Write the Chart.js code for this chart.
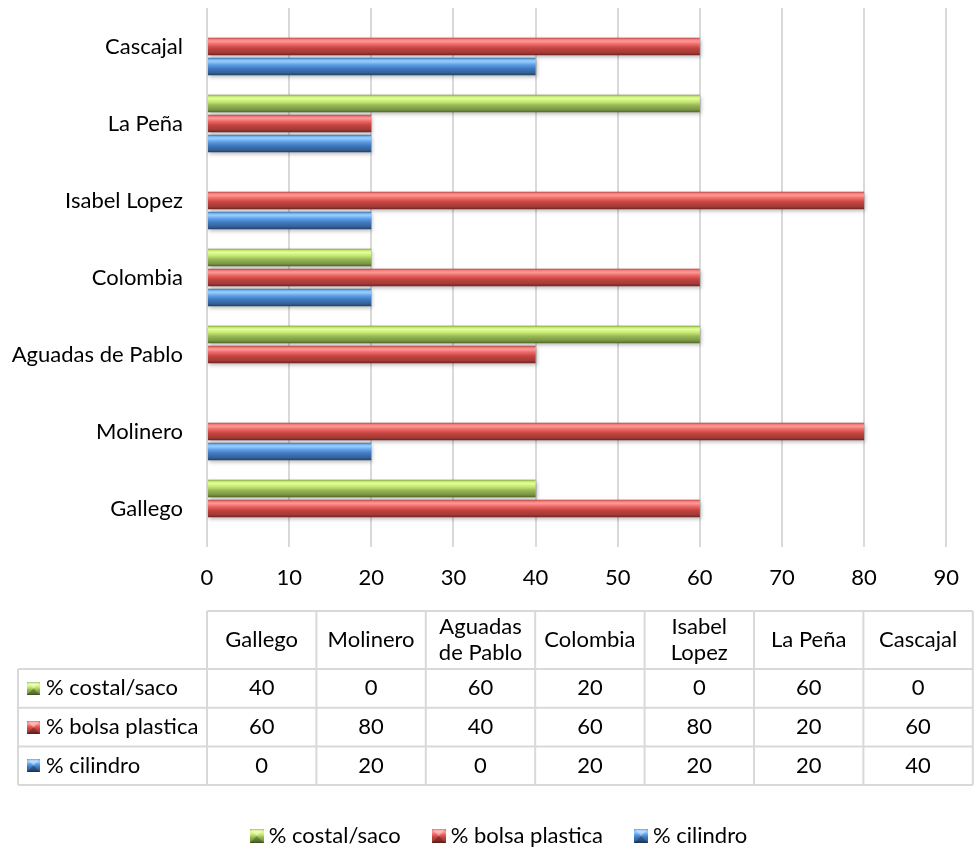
<!DOCTYPE html>
<html>
<head>
<meta charset="utf-8">
<script src="https://cdn.jsdelivr.net/npm/chart.js@4.4.1/dist/chart.umd.min.js"></script>
<style>
  html, body { margin: 0; padding: 0; background: #ffffff; }
  #wrap { width: 977px; height: 852px; position: relative; }
</style>
</head>
<body>
<div id="wrap"><canvas id="c" width="977" height="852"></canvas></div>
<script>
// ---- data ----
const categories = ['Gallego', 'Molinero', 'Aguadas de Pablo', 'Colombia', 'Isabel Lopez', 'La Peña', 'Cascajal'];
const seriesNames = ['% costal/saco', '% bolsa plastica', '% cilindro'];
const costalSaco = [40, 0, 60, 20, 0, 60, 0];
const bolsaPlastica = [60, 80, 40, 60, 80, 20, 60];
const cilindro = [0, 20, 0, 20, 20, 20, 40];
const xMin = 0, xMax = 90, xStep = 10;

// ---- styles ----
const FONT = 'Lato, "Open Sans", sans-serif';
const FS = 22;
const CAT_PCT = 0.78;
const BAR_PCT = 0.88;
const palettes = [
  [[0, '#6f8c33'], [0.07, '#b7dc62'], [0.2, '#e4ff9c'], [0.4, '#c6e872'], [0.6, '#97b957'], [0.85, '#7a9543'], [1, '#4f6527']],
  [[0, '#a23533'], [0.07, '#ef7472'], [0.2, '#ff9a98'], [0.4, '#e86461'], [0.6, '#c4433f'], [0.85, '#a13a37'], [1, '#6e2220']],
  [[0, '#2d5b92'], [0.07, '#6fb0f2'], [0.2, '#9ad0ff'], [0.4, '#5f9fe4'], [0.6, '#3f7bc4'], [0.85, '#356196'], [1, '#203e63']]
];
const solid = ['#9bbb59', '#c0504d', '#4f81bd'];

function barFill(ctx) {
  const chart = ctx.chart;
  const ys = chart.scales && chart.scales.y;
  const ds = ctx.datasetIndex;
  if (!ys || ctx.type !== 'data') return solid[ds];
  const p0 = ys.getPixelForValue(0), p1 = ys.getPixelForValue(1);
  const H = Math.abs(p1 - p0);
  const chunk = H * CAT_PCT / 3;
  const center = ys.getPixelForValue(ctx.dataIndex) - H * CAT_PCT / 2 + chunk * (ds + 0.5);
  const half = chunk * BAR_PCT / 2;
  if (!isFinite(center) || !isFinite(half) || half <= 0) return solid[ds];
  const g = chart.ctx.createLinearGradient(0, center - half, 0, center + half);
  palettes[ds].forEach(([o, c]) => g.addColorStop(o, c));
  return g;
}

function makeSwatch(ds, s) {
  const cv = document.createElement('canvas');
  cv.width = s; cv.height = s;
  const c = cv.getContext('2d');
  const g = c.createLinearGradient(0, 0, 0, s);
  palettes[ds].forEach(([o, col]) => g.addColorStop(o, col));
  c.fillStyle = g;
  c.fillRect(0, 0, s, s);
  c.fillStyle = 'rgba(255,255,255,0.35)';
  c.beginPath(); c.moveTo(0, 0); c.lineTo(s, 0); c.lineTo(s / 2, s / 2); c.closePath(); c.fill();
  c.fillStyle = 'rgba(0,0,0,0.25)';
  c.beginPath(); c.moveTo(0, s); c.lineTo(s, s); c.lineTo(s / 2, s / 2); c.closePath(); c.fill();
  return cv;
}
const tableSwatches = [0, 1, 2].map(i => makeSwatch(i, 13));
const legendSwatches = [0, 1, 2].map(i => makeSwatch(i, 14));

const shadowPlugin = {
  id: 'barShadow',
  beforeDatasetsDraw(chart) {
    const c = chart.ctx;
    c.save();
    c.shadowColor = 'rgba(0,0,0,0.28)';
    c.shadowBlur = 4;
    c.shadowOffsetX = 1;
    c.shadowOffsetY = 2;
  },
  afterDatasetsDraw(chart) { chart.ctx.restore(); }
};

const legendShift = {
  id: 'legendShift',
  afterLayout(chart) {
    const lg = chart.legend;
    if (lg) { lg.left += 21; lg.right += 21; }
  }
};

function wrapText(c, text, maxW) {
  const words = text.split(' ');
  const lines = [];
  let cur = '';
  words.forEach(w => {
    const t = cur ? cur + ' ' + w : w;
    if (c.measureText(t).width > maxW && cur) { lines.push(cur); cur = w; }
    else cur = t;
  });
  if (cur) lines.push(cur);
  return lines;
}

const tablePlugin = {
  id: 'dataTable',
  afterDraw(chart) {
    const c = chart.ctx;
    const area = chart.chartArea;
    const rows = chart.data.datasets;
    const left = area.left;
    const colW = 109.4;
    const labelLeft = 18;
    const headTop = area.bottom + 64;
    const headH = 58;
    const rowH = 38.7;
    const right = left + colW * categories.length;
    const bottom = headTop + headH + rowH * rows.length;
    c.save();
    c.strokeStyle = '#d9d9d9';
    c.lineWidth = 2;
    c.beginPath();
    c.moveTo(left, headTop); c.lineTo(right, headTop);
    for (let i = 0; i <= categories.length; i++) {
      c.moveTo(left + colW * i, headTop); c.lineTo(left + colW * i, bottom);
    }
    for (let r = 0; r <= rows.length; r++) {
      const y = headTop + headH + rowH * r;
      c.moveTo(labelLeft, y); c.lineTo(right, y);
    }
    c.moveTo(labelLeft, headTop + headH); c.lineTo(labelLeft, bottom);
    c.stroke();

    c.fillStyle = '#000';
    c.font = FS + 'px ' + FONT;
    c.textBaseline = 'middle';
    c.textAlign = 'center';
    categories.forEach((cat, i) => {
      const cx = left + colW * (i + 0.5);
      const lines = wrapText(c, cat, colW - 14);
      const lh = 26;
      const y0 = headTop + headH / 2 - (lines.length - 1) * lh / 2;
      lines.forEach((ln, k) => c.fillText(ln, cx, y0 + k * lh));
    });
    rows.forEach((ds, r) => {
      const cy = headTop + headH + rowH * (r + 0.5);
      ds.data.forEach((v, i) => {
        c.textAlign = 'center';
        c.fillText(String(v), left + colW * (i + 0.5), cy);
      });
      c.drawImage(tableSwatches[r], 27, Math.round(cy - 6.5));
      c.textAlign = 'left';
      c.fillText(ds.label, 46, cy);
    });
    c.restore();
  }
};

const seriesValues = [costalSaco, bolsaPlastica, cilindro];

new Chart(document.getElementById('c'), {
  type: 'bar',
  data: {
    labels: categories,
    datasets: seriesNames.map((name, i) => ({
      label: name,
      data: seriesValues[i],
      backgroundColor: barFill,
      borderWidth: 0,
      categoryPercentage: CAT_PCT,
      barPercentage: BAR_PCT
    }))
  },
  options: {
    indexAxis: 'y',
    responsive: false,
    animation: false,
    devicePixelRatio: 1,
    layout: { padding: { left: 0, right: 16, top: 8, bottom: -5 } },
    scales: {
      x: {
        min: xMin, max: xMax,
        ticks: { stepSize: xStep, color: '#000', font: { family: FONT, size: FS }, padding: 18 },
        grid: { color: '#d9d9d9', lineWidth: 2, drawTicks: false },
        border: { display: false },
        afterFit(scale) { scale.height = 241; }
      },
      y: {
        reverse: true,
        ticks: { color: '#000', font: { family: FONT, size: FS }, padding: 24 },
        grid: { display: false, drawTicks: false },
        border: { display: false },
        afterFit(scale) { scale.width = 207; scale.paddingTop = 0; scale.paddingBottom = 0; }
      }
    },
    plugins: {
      tooltip: { enabled: false },
      legend: {
        position: 'bottom',
        labels: {
          color: '#000',
          font: { family: FONT, size: FS },
          boxWidth: 2, boxHeight: 14,
          usePointStyle: true,
          padding: 37,
          generateLabels(chart) {
            return chart.data.datasets.map((ds, i) => ({
              text: ds.label,
              fillStyle: solid[i],
              strokeStyle: solid[i],
              lineWidth: 0,
              pointStyle: legendSwatches[i],
              hidden: false,
              datasetIndex: i,
              fontColor: '#000'
            }));
          }
        }
      }
    }
  },
  plugins: [shadowPlugin, legendShift, tablePlugin]
});
</script>
</body>
</html>
